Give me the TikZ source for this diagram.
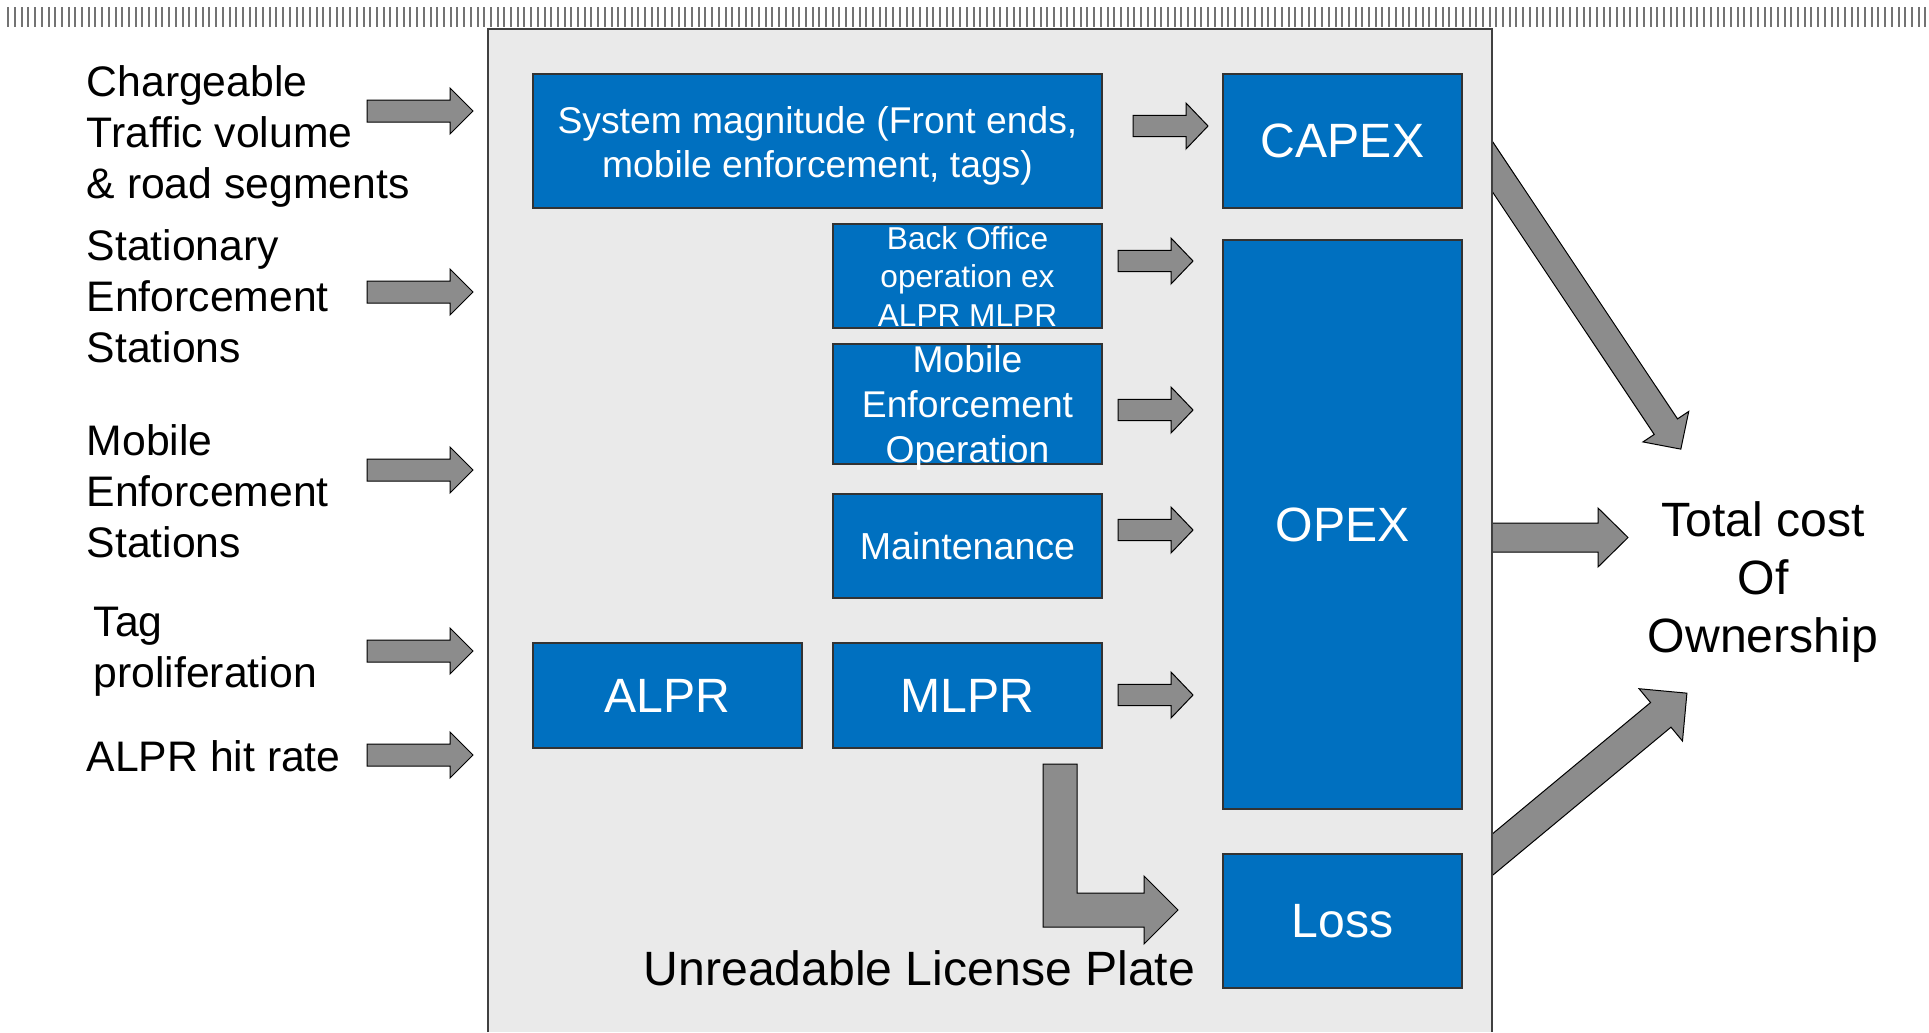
\documentclass[tikz,border=0pt]{standalone}
\usepackage{fontspec}
\setmainfont{Liberation Sans}
\definecolor{pptblue}{RGB}{0,112,192}
\definecolor{arrowgray}{RGB}{140,140,140}
\definecolor{panelgray}{RGB}{234,234,234}
\newcommand\SizeFont[2]{\fontsize{#1}{#2}\selectfont}
% x, y of tail, angle, length, head length, shaft half width, head half width
\newcommand\BlockArrow[7]{%
    \begin{scope}[shift={(#1,#2)},rotate=#3]
        \draw[blockarrow] (0,-#6) -- ({#4-#5},-#6) -- ({#4-#5},-#7) -- (#4,0)
            -- ({#4-#5},#7) -- ({#4-#5},#6) -- (0,#6) -- cycle;
    \end{scope}
}

\begin{document}
\begin{tikzpicture}[x=0.1mm,y=-0.1mm,
    bluebox/.style={draw=black!80,fill=pptblue,line width=0.12mm,inner sep=0,text=white},
    blockarrow/.style={draw=black,fill=arrowgray,line width=0.1mm},
    rulertick/.style={draw=black!55,line width=0.2mm},
    sidelabel/.style={anchor=north west,inner sep=0,align=left,font=\SizeFont{12.15pt}{14.5pt}},
    biglabel/.style={font=\SizeFont{13.7pt}{16.5pt}},
    boxtext/.style={inner sep=0,align=center,text=white}]
    \useasboundingbox (0,0) rectangle (1929,1032);
    % ruler strip
    \foreach \i in {0,...,286}
        \draw[rulertick] ({8.3+6.703*\i},7) -- ({8.3+6.703*\i},27);
    % arrows to TCO, tails hidden behind the panel
    \BlockArrow{1470}{133}{-56.3}{380}{27}{14}{27.5}
    \BlockArrow{1470}{537.5}{0}{158}{30}{14.5}{29.5}
    \BlockArrow{1471.5}{872}{39.7}{280}{34}{16}{34}
    % panel
    \fill[panelgray] (488,29) rectangle (1492,1032);
    \draw[black!75,line width=0.15mm] (488,1032) -- (488,29) -- (1492,29) -- (1492,1032);
    % cost drivers
    \node[bluebox,minimum width=56.9mm,minimum height=13.4mm] (sysmag) at (817.5,141) {};
    \node[boxtext,font=\SizeFont{10.6pt}{12.5pt}] (sysmag-text) at (817.5,146) {System magnitude (Front ends,\\mobile enforcement, tags)};
    \node[bluebox,minimum width=26.9mm,minimum height=10.4mm] (backoffice) at (967.5,276) {};
    \node[boxtext,font=\SizeFont{9pt}{11pt}] (backoffice-text) at (967.5,276.5) {Back Office\\operation ex\\ALPR MLPR};
    \node[bluebox,minimum width=26.9mm,minimum height=12mm] (mobileop) at (967.5,404) {};
    \node[boxtext,font=\SizeFont{10.6pt}{12.8pt}] (mobileop-text) at (967.5,408) {Mobile\\Enforcement\\Operation};
    \node[bluebox,minimum width=26.9mm,minimum height=10.4mm,font=\SizeFont{10.7pt}{12.5pt}] (maint) at (967.5,546) {Maintenance};
    \node[bluebox,minimum width=26.9mm,minimum height=10.5mm,biglabel] (alpr) at (667.5,695.5) {ALPR};
    \node[bluebox,minimum width=26.9mm,minimum height=10.5mm,biglabel] (mlpr) at (967.5,695.5) {MLPR};
    % cost categories
    \node[bluebox,minimum width=23.9mm,minimum height=13.4mm,biglabel] (capex) at (1342.5,141) {CAPEX};
    \node[bluebox,minimum width=23.9mm,minimum height=56.9mm,biglabel] (opex) at (1342.5,524.5) {OPEX};
    \node[bluebox,minimum width=23.9mm,minimum height=13.4mm,biglabel] (loss) at (1342.5,921) {Loss};
    \BlockArrow{1133}{126}{0}{75}{22}{10.7}{23}
    \foreach \y in {261,410,530,695}
        {\BlockArrow{1118}{\y}{0}{75}{22}{10.7}{23}}
    % unreadable plates
    \draw[blockarrow] (1043,764) -- (1077,764) -- (1077,893) -- (1144,893) -- (1144,876)
        -- (1178,910) -- (1144,944) -- (1144,927) -- (1043,927) -- cycle;
    \node[biglabel,anchor=base west,inner sep=0] (unreadable) at (643,985) {Unreadable License Plate};
    % inputs
    \node[sidelabel] (traffic) at (86,64.5) {Chargeable\\Traffic volume\\\& road segments};
    \node[sidelabel] (stationary) at (86,229) {Stationary\\Enforcement\\Stations};
    \node[sidelabel] (mobile) at (86,424) {Mobile\\Enforcement\\Stations};
    \node[sidelabel] (tags) at (93,606) {Tag\\proliferation};
    \node[sidelabel] (hitrate) at (86,740) {ALPR hit rate};
    \foreach \y in {111,292,470,651,755}
        {\BlockArrow{367}{\y}{0}{106}{23}{11}{23}}
    \node[biglabel,align=center,inner sep=0] (tco) at (1763,582) {Total cost\\Of\\Ownership};
\end{tikzpicture}
\end{document}
